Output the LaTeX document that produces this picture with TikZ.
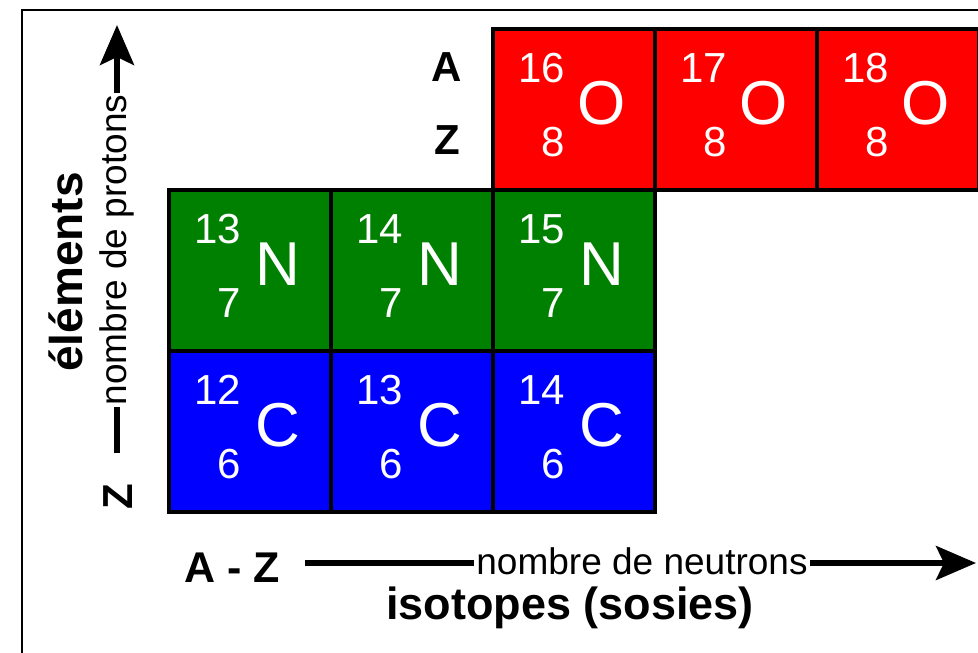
\documentclass[tikz,border=0pt]{standalone}
\usepackage{fontspec}
\setmainfont{Liberation Sans}
\usetikzlibrary{arrows.meta}
\definecolor{cellred}{HTML}{FF0000}
\definecolor{cellgreen}{HTML}{008000}
\definecolor{cellblue}{HTML}{0000FF}
\tikzset{
  cell/.style={draw=black, line width=3.5pt, minimum width=162pt, minimum height=161pt, inner sep=0pt, anchor=north west},
  anum/.style={text=white, inner sep=0pt, anchor=east, font=\fontsize{42}{42}\selectfont},
  sym/.style={text=white, inner sep=0pt, font=\fontsize{62}{62}\selectfont},
  boldlab/.style={inner sep=0pt, font=\fontsize{42}{42}\selectfont\bfseries},
  axislab/.style={fill=white, inner sep=2pt, font=\fontsize{37}{37}\selectfont},
  axis/.style={line width=5.5pt, -{Stealth[length=40pt, width=34pt, inset=8pt]}},
  frameline/.style={line width=2pt}
}
\newcommand\isocell[7]{%
  \node[cell, fill=#4] (#1) at (#2,#3) {};
  \node[anum] (#1a) at ([shift={(74,41)}]#1.north west) {#5};
  \node[anum] (#1z) at ([shift={(74,115)}]#1.north west) {#6};
  \node[sym] (#1s) at ([shift={(111,76)}]#1.north west) {#7};
}
\begin{document}
\begin{tikzpicture}[x=1pt, y=-1pt]
\useasboundingbox (0,0) rectangle (978,653);
% frame
\coordinate (fbl) at (22,655);
\coordinate (ftl) at (22,10);
\coordinate (ftr) at (980,10);
\draw[frameline] (fbl) -- (ftl) -- (ftr);
% cells
\isocell{c12}{167}{349}{cellblue}{12}{6}{C}
\isocell{c13}{329}{349}{cellblue}{13}{6}{C}
\isocell{c14}{491}{349}{cellblue}{14}{6}{C}
\isocell{n13}{167}{188}{cellgreen}{13}{7}{N}
\isocell{n14}{329}{188}{cellgreen}{14}{7}{N}
\isocell{n15}{491}{188}{cellgreen}{15}{7}{N}
\isocell{o16}{491}{27}{cellred}{16}{8}{O}
\isocell{o17}{653}{27}{cellred}{17}{8}{O}
\isocell{o18}{815}{27}{cellred}{18}{8}{O}
% A / Z labels
\node[boldlab] (alab) at (447,67) {A};
\node[boldlab] (zlab) at (447,140) {Z};
% vertical axis
\coordinate (ystart) at (117,453);
\coordinate (yend) at (117,25);
\draw[axis] (ystart) -- (yend);
\node[axislab, rotate=90] (protons) at (117,250) {nombre de protons};
\node[boldlab, rotate=90] (zaxis) at (118,497) {Z};
\node[inner sep=0pt, rotate=90, font=\fontsize{46}{46}\selectfont\bfseries] (elements) at (66,272) {éléments};
% horizontal axis
\coordinate (xstart) at (305,563);
\coordinate (xend) at (976,563);
\draw[axis] (xstart) -- (xend);
\node[axislab] (neutrons) at (642,561) {nombre de neutrons};
\node[inner sep=0pt, font=\fontsize{43}{43}\selectfont\bfseries] (az) at (232,568) {A - Z};
\node[inner sep=0pt, font=\fontsize{45}{45}\selectfont\bfseries] (isotopes) at (570,608) {isotopes (sosies)};
\end{tikzpicture}
\end{document}
